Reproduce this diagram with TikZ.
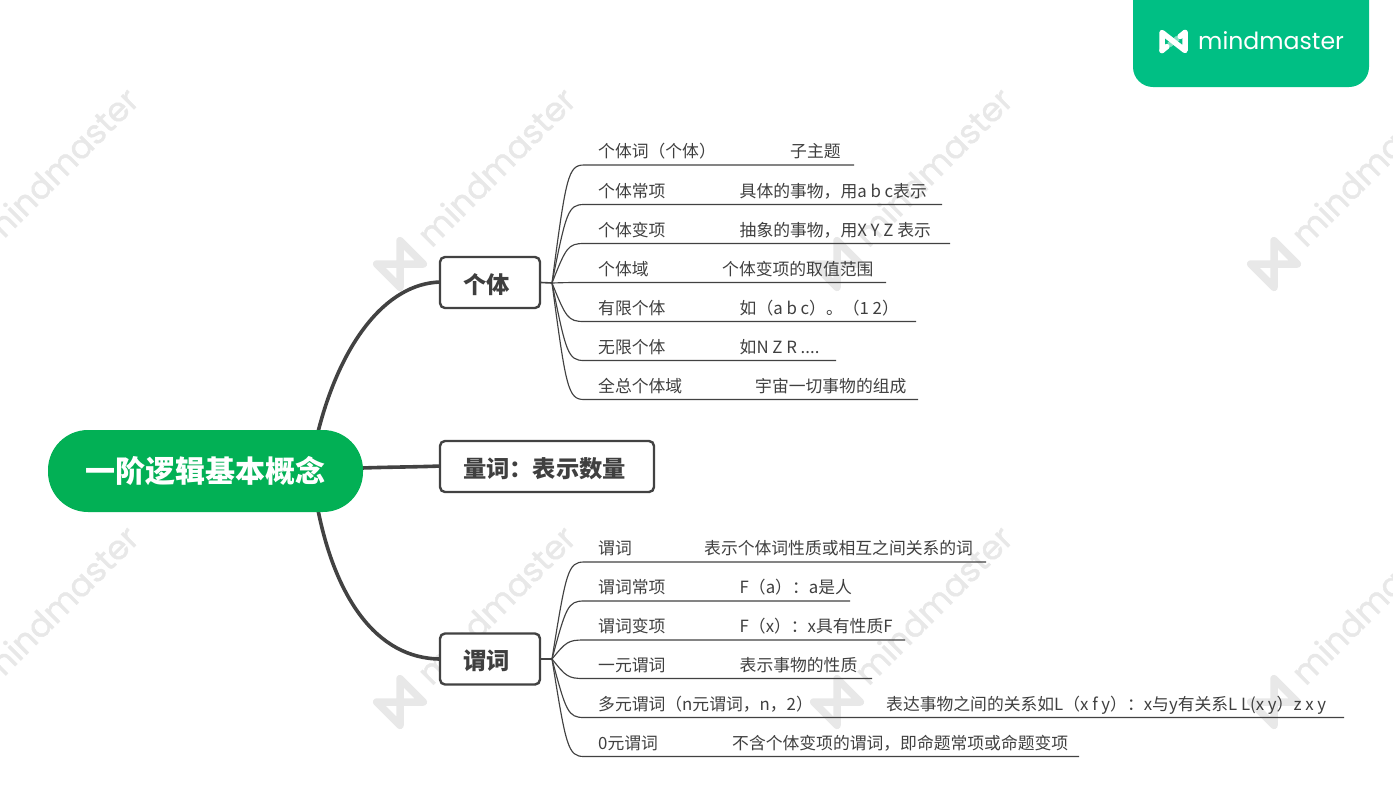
\documentclass[tikz,border=0pt]{standalone}
\usepackage{fontspec}
\setmainfont{Noto Sans CJK SC}
\newfontfamily\wmfont{Poppins}
\newfontfamily\wmheavy{Poppins}[FakeBold=1.3]
\definecolor{ink}{HTML}{3F3F3F}
\definecolor{wire}{HTML}{424242}
\definecolor{rootgreen}{HTML}{02B055}
\definecolor{tabgreen}{HTML}{00BF84}
\definecolor{wmgray}{HTML}{E8E8E8}
\tikzset{
  leaf/.style={anchor=base west,inner sep=0pt,text=ink,font=\fontsize{16.8}{18}\selectfont},
  topicbox/.style={draw=wire,line width=2.4pt,rounded corners=5pt,fill=white,inner xsep=23pt,inner ysep=0pt,align=left,text=ink,font=\fontsize{23.3}{26}\selectfont\bfseries},
  rootnode/.style={fill=rootgreen,rounded corners=40pt,inner sep=0pt,text=white,font=\fontsize{30}{34}\selectfont\bfseries},
  trunk/.style={draw=wire,line width=3.6pt},
  twig/.style={draw=wire,line width=1.15pt},
}
\newcommand{\lowered}[1]{\raisebox{-2pt}[\height][\depth]{#1}}
% name, hub name, hub x, hub y, y of rule, x of rule end, label, x of detail, detail
\newcommand{\leafrow}[9]{%
  \node[leaf] (#1l) at (598,#5-7.2) {#7};
  \node[leaf] (#1d) at (#8,#5-7.2) {#9};
  \coordinate (#1s) at (584,#5);
  \coordinate (#1e) at (#6,#5);
  \draw[twig] (#2) .. controls ({#3+14},{#5+0.1*(#4-(#5))}) and ({#3+16},#5) .. (#1s) -- (#1e);
}
\newcommand{\wmark}[2]{%
  \begin{scope}[shift={(#1,#2)},rotate=45,transform shape]
    \draw[wmgray,line width=7.5pt,line cap=round,line join=round]
      (-16.5,16.5) -- (-16.5,-16.5) -- (16.5,16.5) -- (16.5,-16.5) -- cycle;
    \node[anchor=west,inner sep=0pt,text=wmgray,font=\wmheavy\fontsize{33.5}{36}\selectfont] (wm#1x#2) at (33,-1) {mindmaster};
  \end{scope}
}
\begin{document}
\begin{tikzpicture}[x=1pt,y=-1pt]
\useasboundingbox (0,0) rectangle (1393,807);
\begin{scope}
\clip (0,0) rectangle (1393,807);
\foreach \yy in {264,702} {
  \foreach \xx in {-37,400,837,1274} {
    \wmark{\xx}{\yy}
  }
}
\end{scope}
% tab
\fill[tabgreen,rounded corners=20pt] (1133,-30) rectangle (1369,87);
\draw[white,line width=5.5pt,line cap=round,line join=round]
  (1162,50.5) -- (1162,32.5) -- (1185,50.5) -- (1185,32.5);
\draw[white,opacity=.5,line width=5.5pt] (1169,45) -- (1178,38);
\draw[white,line width=5.5pt,line cap=round] (1162,50.5) -- (1167,46.5) (1185,32.5) -- (1180,36.5);
\node[anchor=west,inner sep=0pt,text=white,font=\wmfont\fontsize{23.6}{26}\selectfont] (brand) at (1198,41) {mindmaster};
% trunks
\coordinate (rootA) at (318,432);
\coordinate (rootB) at (362,468);
\coordinate (rootC) at (318,510);
\draw[trunk] (rootA) .. controls (340,345) and (385,283) .. (441,282);
\draw[trunk] (rootB) .. controls (390,467) and (415,467) .. (441,466);
\draw[trunk] (rootC) .. controls (335,595) and (375,659) .. (441,659);
% root
\node[rootnode,minimum width=315pt,minimum height=82pt] (root) at (205.5,471) {一阶逻辑基本概念};
% topics
\node[topicbox,text width=54pt,minimum height=51pt] (t1) at (490,282.5) {\lowered{个体}};
\node[topicbox,text width=168pt,minimum height=51pt] (t2) at (547,466.5) {\lowered{量词：表示数量}};
\node[topicbox,text width=54pt,minimum height=51pt] (t3) at (490,659) {\lowered{谓词}};
\coordinate (hubA) at (552,283);
\coordinate (hubC) at (552,659);
\draw[twig,line width=1.6pt] (t1.east) -- (hubA);
\draw[twig,line width=1.6pt] (t3.east) -- (hubC);
% first group
\leafrow{a1}{hubA}{552}{283}{165}{854}{个体词（个体）}{790}{子主题}
\leafrow{a2}{hubA}{552}{283}{204.5}{942}{个体常项}{739.5}{具体的事物，用a b c表示}
\leafrow{a3}{hubA}{552}{283}{243.5}{950}{个体变项}{739.5}{抽象的事物，用X Y Z 表示}
\leafrow{a4}{hubA}{552}{283}{282.5}{886}{个体域}{722}{个体变项的取值范围}
\leafrow{a5}{hubA}{552}{283}{321.5}{916}{有限个体}{739.5}{如（a b c）。（1 2）}
\leafrow{a6}{hubA}{552}{283}{360.5}{836}{无限个体}{739.5}{如N Z R ....}
\leafrow{a7}{hubA}{552}{283}{399.5}{918}{全总个体域}{755}{宇宙一切事物的组成}
% second group
\leafrow{c1}{hubC}{552}{659}{562}{986}{谓词}{704}{表示个体词性质或相互之间关系的词}
\leafrow{c2}{hubC}{552}{659}{601}{850}{谓词常项}{739.5}{F（a）：a是人}
\leafrow{c3}{hubC}{552}{659}{640}{905}{谓词变项}{739.5}{F（x）：x具有性质F}
\leafrow{c4}{hubC}{552}{659}{678.5}{872}{一元谓词}{739.5}{表示事物的性质}
\leafrow{c5}{hubC}{552}{659}{717.5}{1344}{多元谓词（n元谓词，n，2）}{886}{表达事物之间的关系如L（x f y）：x与y有关系L L(x y）z x y}
\leafrow{c6}{hubC}{552}{659}{756.5}{1079}{0元谓词}{732}{不含个体变项的谓词，即命题常项或命题变项}
\end{tikzpicture}
\end{document}
